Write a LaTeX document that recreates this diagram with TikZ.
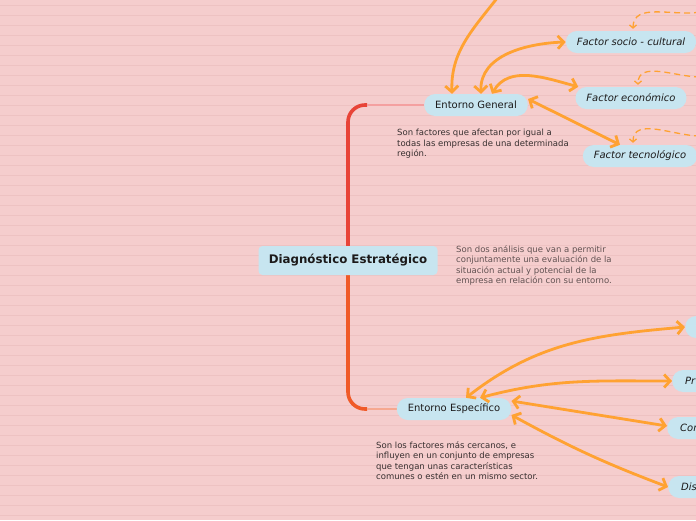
\documentclass[tikz,border=0pt]{standalone}
\usepackage{fontspec}
\setmainfont{DejaVu Sans}
\usetikzlibrary{arrows.meta,backgrounds}
\definecolor{bgpink}{HTML}{F5CDCD}
\definecolor{bgline}{HTML}{EEC2C2}
\definecolor{nodeblue}{HTML}{C7E5F0}
\definecolor{ink}{HTML}{1C1A1A}
\definecolor{notedark}{HTML}{383030}
\definecolor{notegray}{HTML}{625252}
\definecolor{linkorange}{HTML}{FFA232}
\definecolor{trunkred}{HTML}{E84438}
\definecolor{trunkorange}{HTML}{F05A28}
\definecolor{twigred}{HTML}{F4A0A0}
\definecolor{twigorange}{HTML}{F6A890}

\begin{document}
\begin{tikzpicture}[x=1pt, y=-1pt,
    pill/.style={fill=nodeblue, rounded corners=11pt, minimum height=22pt,
      inner xsep=11pt, inner ysep=0pt, text=ink, font=\fontsize{10}{12}\selectfont},
    factor/.style={pill, font=\fontsize{10}{12}\selectfont\itshape},
    cut/.style={factor, anchor=west, inner xsep=13pt, text width=34pt, align=left},
    note/.style={anchor=north west, inner sep=0pt, align=left,
      text=notedark, font=\fontsize{8.5}{10.6}\selectfont},
    barb/.tip={Straight Barb[length=6pt,width=13pt]},
    link/.style={draw=linkorange, line width=2.8pt, barb-barb},
    into/.style={draw=linkorange, line width=2.8pt, -barb},
    hint/.style={draw=linkorange, line width=1.3pt, dash pattern=on 6pt off 4pt,
      -{Straight Barb[length=3pt,width=7pt]}},
    trunk/.style={line width=3.6pt, rounded corners=17pt},
    twig/.style={line width=1.6pt}
  ]
  \useasboundingbox (0,0) rectangle (696,520);
  \clip (0,0) rectangle (696,520);

  % main topic and the two branches
  \node [fill=nodeblue, rounded corners=4pt, minimum width=179pt, minimum height=29pt,
    text=ink, font=\fontsize{11.8}{13}\selectfont\bfseries] (diag) at (348,260.5)
    {Diagnóstico Estratégico};
  \node [pill] (eg) at (476,105) {Entorno General};
  \node [pill] (ee) at (454,409) {Entorno Específico};

  % factors of the general environment
  \node [factor] (socio) at (631,42) {Factor socio - cultural};
  \node [factor] (econ) at (631,98) {Factor económico};
  \node [factor] (tecno) at (640,156) {Factor tecnológico};

  % forces of the specific environment (cut off at the right edge)
  \node [cut, minimum height=22pt] (cli) at (685,327) {};
  \node [cut] (prov) at (672,381) {Pr};
  \node [cut] (comp) at (667,428) {Com};
  \node [cut] (dist) at (668,487) {Dis};

  % notes
  \node [note] (ngen) at (397,129)
    {Son factores que afectan por igual a\\todas las empresas de una determinada\\región.};
  \node [note, text=notegray] (ndiag) at (456,245)
    {Son dos análisis que van a permitir\\conjuntamente una evaluación de la\\situación actual y potencial de la\\empresa en relación con su entorno.};
  \node [note] (nesp) at (376,441)
    {Son los factores más cercanos, e\\influyen en un conjunto de empresas\\que tengan unas características\\comunes o estén en un mismo sector.};

  \begin{scope}[on background layer]
    \fill [bgpink] (0,0) rectangle (696,520);
    \foreach \y in {5,15,...,515}
      \draw [bgline, line width=0.8pt] (0,\y) -- (696,\y);
    % bracket from the main topic
    \coordinate (top) at (diag.center |- eg.west);
    \coordinate (bot) at (diag.center |- ee.west);
    \draw [trunk, trunkred] ([xshift=19pt]top) -- (top) -- (diag.center);
    \draw [trunk, trunkorange] (diag.center) -- (bot) -- ([xshift=19pt]bot);
    \draw [twig, twigred] ([xshift=19pt]top) -- (eg.west);
    \draw [twig, twigorange] ([xshift=19pt]bot) -- (ee.west);
  \end{scope}

  % relations, top
  \coordinate (off) at (498,-3);
  \draw [into] (off) to[out=232, in=92] ([xshift=-24pt]eg.north);
  \draw [link] ([xshift=5pt]eg.north) to[out=92, in=182] (socio.west);
  \draw [link] ([xshift=16pt]eg.north) to[out=60, in=165] ([xshift=3pt]econ.north west);
  \draw [link] ([yshift=6pt]eg.east) -- ([xshift=-20pt]tecno.north);

  \coordinate (s0) at (700,12);
  \coordinate (e0) at (700,77);
  \coordinate (t0) at (700,136);
  \draw [hint] (s0) to[out=190, in=90] ([shift={(2pt,2pt)}]socio.north);
  \draw [hint] (e0) to[out=180, in=90] ([shift={(7pt,2pt)}]econ.north);
  \draw [hint] (t0) to[out=180, in=90] ([shift={(-7pt,2pt)}]tecno.north);

  % relations, bottom
  \draw [link] ([xshift=12pt]ee.north) to[out=38, in=185] (cli.west);
  \draw [link] ([xshift=26pt]ee.north) to[out=15, in=180] (prov.west);
  \draw [link] ([yshift=8pt]ee.east) -- ([yshift=2pt]comp.west);
  \draw [link] ([yshift=-6pt]ee.east) to[bend right=4] (dist.west);
\end{tikzpicture}
\end{document}
